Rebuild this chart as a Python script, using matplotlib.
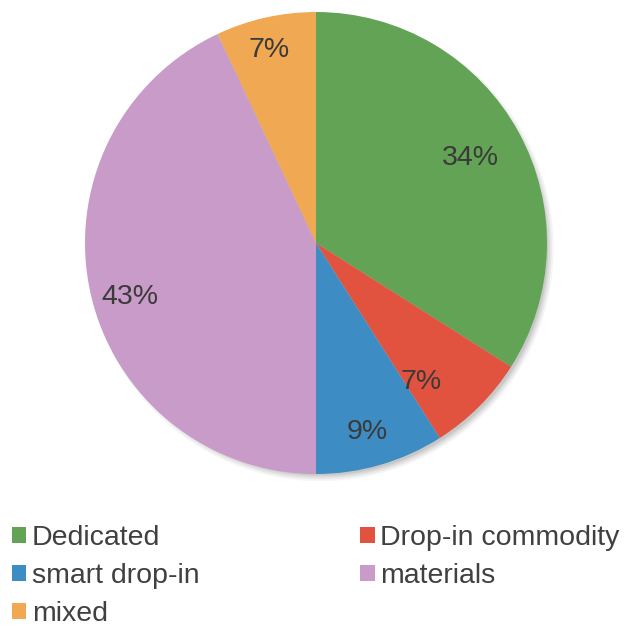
import numpy as np
import matplotlib.pyplot as plt
from matplotlib.patches import Circle

plt.rcParams['font.family'] = ['Liberation Sans', 'DejaVu Sans']

# shares per category, clockwise from 12 o'clock
categories = ['Dedicated', 'Drop-in commodity', 'smart drop-in', 'materials', 'mixed']
shares = [34, 7, 9, 43, 7]
colors = ['#62a355', '#e2533f', '#3d8dc4', '#c89bc8', '#f0a952']

# where each percentage label sits: fraction of radius, angle nudge in degrees
label_r = [0.765, 0.755, 0.85, 0.84, 0.86]
label_nudge = [0, -8, -1, 3.5, 1]

W, H = 628, 627
fig = plt.figure(figsize=(W / 100, H / 100), dpi=100)

# pie area: centre (316, 243) px, radius 231 px
cx, cy, r = 316, 243, 231
ax = fig.add_axes([(cx - r * 1.05) / W, (H - cy - r * 1.05) / H, 2.1 * r / W, 2.1 * r / H])

# soft shadow towards the lower right
for i, a in enumerate([0.04, 0.05, 0.06, 0.08]):
    ax.add_patch(Circle((0.02, -0.022), 0.985 + 0.008 * (3 - i), color='black',
                        alpha=a, lw=0, zorder=0))

wedges, texts, autotexts = ax.pie(
    shares, colors=colors, startangle=90, counterclock=False, radius=1.0,
    autopct='%d%%', pctdistance=0.82,
    wedgeprops=dict(linewidth=0, zorder=1),
    textprops=dict(fontsize=20.5, color='#3a3a3a'))
for w, t, lr, dn in zip(wedges, autotexts, label_r, label_nudge):
    w.set_zorder(2)
    mid = np.deg2rad((w.theta1 + w.theta2) / 2 + dn)
    t.set_position((lr * np.cos(mid), lr * np.sin(mid)))
    t.set_zorder(3)

ax.set_xlim(-1.05, 1.05)
ax.set_ylim(-1.05, 1.05)
ax.set_aspect('equal')
ax.axis('off')

# legend laid out row by row (two columns)
order = [0, 2, 4, 1, 3]
leg = fig.legend([wedges[i] for i in order], [categories[i] for i in order],
                 ncol=2, loc='upper left', bbox_to_anchor=(12 / W, 1 - 525 / H),
                 frameon=False, fontsize=20.5, handlelength=0.5, handleheight=0.5,
                 handletextpad=0.2, labelspacing=0.42, columnspacing=5.65,
                 borderaxespad=0, borderpad=0)
for t in leg.get_texts():
    t.set_color('#404040')

fig.savefig('out.png', dpi=100)
